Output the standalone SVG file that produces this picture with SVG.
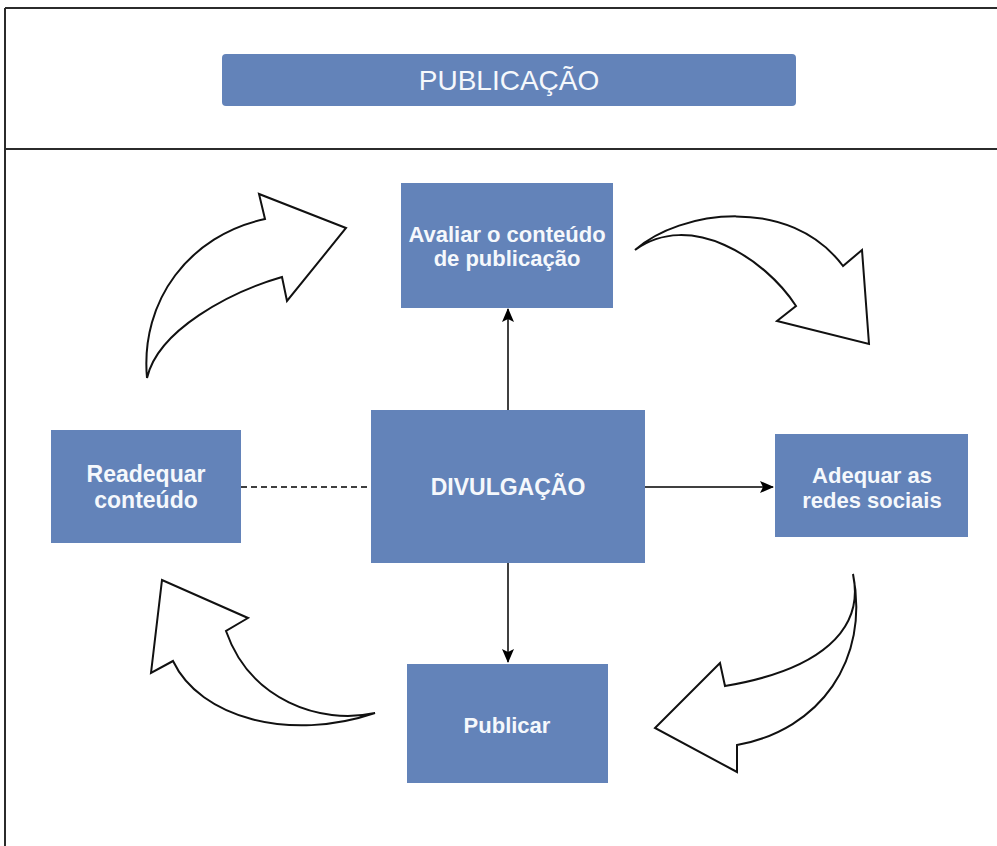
<svg xmlns="http://www.w3.org/2000/svg" width="997" height="846" viewBox="0 0 997 846">
  <defs>
    <style>
      .frame { stroke: #2b2b2b; stroke-width: 2; fill: none; }
      .box { fill: #6383b9; }
      .label { font-family: "Liberation Sans", Arial, sans-serif; font-weight: bold; font-size: 22px; fill: #f5f8fc; text-anchor: middle; }
      .title { font-family: "Liberation Sans", Arial, sans-serif; font-size: 28px; fill: #f5f8fc; text-anchor: middle; }
      .link { stroke: #000; stroke-width: 1.5; fill: none; }
      .dash { stroke-dasharray: 6 4; }
      .cycle { fill: #fff; stroke: #111; stroke-width: 2; stroke-linejoin: miter; }
    </style>
    <marker id="head" markerUnits="userSpaceOnUse" markerWidth="14" markerHeight="12" viewBox="0 0 14 12" refX="13" refY="6" orient="auto">
      <path d="M0,0 L14,6 L0,12 L3,6 Z" fill="#000"/>
    </marker>
  </defs>

  <rect width="997" height="846" fill="#fff"/>

  <!-- page frame: top edge, header divider, left edge -->
  <g id="frame">
    <path class="frame" d="M5,8 H997 M5,149 H997 M5,8 V846"/>
  </g>

  <!-- header -->
  <g id="title">
    <rect class="box" x="222" y="54" width="574" height="52" rx="4"/>
    <text class="title" x="509" y="90">PUBLICAÇÃO</text>
  </g>

  <!-- curved cycle arrows -->
  <g id="cycle-arrows">
    <path class="cycle" d="M147,378 C140,300 190,235 265,219 L259,194 L346,228 L287,301 L282,277 C230,292 158,330 147,378 Z"/>
    <path class="cycle" d="M635,250 C680,210 790,195 843,266 L862,250 L869,344 L777,321 L796,306 C765,258 690,210 635,250 Z"/>
    <path class="cycle" d="M853,574 C865,630 820,670 725,686 L720,663 L655,728 L737,772 L737,745 C820,730 870,660 853,574 Z"/>
    <path class="cycle" d="M375,713 C320,725 250,700 226,631 L248,618 L162,580 L151,673 L173,661 C200,718 290,742 375,713 Z"/>
  </g>

  <!-- connectors -->
  <g id="connectors">
    <line class="link" x1="508" y1="410" x2="508" y2="309" marker-end="url(#head)"/>
    <line class="link" x1="645" y1="487" x2="773" y2="487" marker-end="url(#head)"/>
    <line class="link" x1="508" y1="563" x2="508" y2="662" marker-end="url(#head)"/>
    <line class="link dash" x1="241" y1="487" x2="371" y2="487"/>
  </g>

  <g id="avaliar">
    <rect class="box" x="401" y="183" width="212" height="125"/>
    <text class="label" x="507" y="242">Avaliar o conteúdo</text>
    <text class="label" x="507" y="266">de publicação</text>
  </g>

  <g id="divulgacao">
    <rect class="box" x="371" y="410" width="274" height="153"/>
    <text class="label" x="508" y="495" style="font-size:23px">DIVULGAÇÃO</text>
  </g>

  <g id="readequar">
    <rect class="box" x="51" y="430" width="190" height="113"/>
    <text class="label" x="146" y="482" style="font-size:23px">Readequar</text>
    <text class="label" x="146" y="508" style="font-size:23px">conteúdo</text>
  </g>

  <g id="adequar">
    <rect class="box" x="775" y="434" width="193" height="103"/>
    <text class="label" x="872" y="483">Adequar as</text>
    <text class="label" x="872" y="508">redes sociais</text>
  </g>

  <g id="publicar">
    <rect class="box" x="407" y="664" width="201" height="119"/>
    <text class="label" x="507" y="733">Publicar</text>
  </g>
</svg>
